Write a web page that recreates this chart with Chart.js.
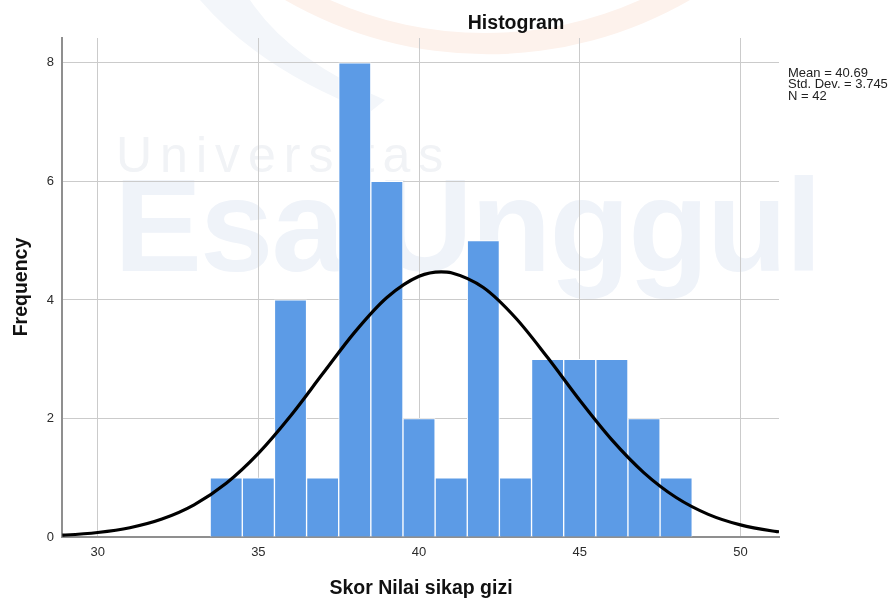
<!DOCTYPE html>
<html>
<head>
<meta charset="utf-8">
<script src="https://cdn.jsdelivr.net/npm/chart.js@4.4.1/dist/chart.umd.min.js"></script>
<style>
  html, body { margin: 0; padding: 0; background: #ffffff; }
  #wrap { position: relative; width: 893px; height: 600px; overflow: hidden; }
  #wm { position: absolute; left: 0; top: 0; width: 893px; height: 600px; }
  #c { position: absolute; left: 0; top: 0; }
  .wm1 { position: absolute; left: 116px; top: 126px; font-family: "Liberation Sans", Arial, sans-serif; font-weight: 300; font-size: 50px; letter-spacing: 8px; color: #f1f3f6; white-space: nowrap; }
  .wm2 { position: absolute; left: 114px; top: 160px; font-family: "Liberation Sans", Arial, sans-serif; font-weight: 700; font-size: 132px; letter-spacing: -2px; color: #eff3f9; white-space: nowrap; line-height: 1; }
</style>
</head>
<body>
<div id="wrap">
  <svg id="wm" width="893" height="600">
    <path d="M 200 0 Q 260 70 370 112 L 385 100 Q 290 60 250 0 Z" fill="#f3f6fa"/>
    <path d="M 285 0 A 405 405 0 0 0 690 0 L 640 0 A 380 380 0 0 1 330 0 Z" fill="#fdf2ec"/>
  </svg>
  <div class="wm1">Universitas</div>
  <div class="wm2">Esa Unggul</div>
  <canvas id="c" width="893" height="600"></canvas>
</div>
<script>
// Histogram bins (bin centres) and frequencies
const binCenters = [34, 35, 36, 37, 38, 39, 40, 41, 42, 43, 44, 45, 46, 47, 48];
const frequencies = [1, 1, 4, 1, 8, 6, 2, 1, 5, 1, 3, 3, 3, 2, 1];

// Normal curve (Mean = 40.69, Std. Dev. = 3.745, N = 42)
const curveX = [28.9, 29, 30, 31, 32, 33, 34, 35, 36, 37, 38, 39, 40, 40.69, 41, 42, 43, 44, 45, 46, 47, 48, 49, 50, 51, 51.2];
const curveY = [0.032, 0.034, 0.076, 0.157, 0.303, 0.543, 0.907, 1.411, 2.042, 2.753, 3.457, 4.041, 4.399, 4.474, 4.459, 4.209, 3.699, 3.028, 2.307, 1.638, 1.082, 0.666, 0.382, 0.204, 0.101, 0.088];

const xTicks = [30, 35, 40, 45, 50];
const yTicks = [0, 2, 4, 6, 8];

const chartTitle = "Histogram";
const xTitle = "Skor Nilai sikap gizi";
const yTitle = "Frequency";
const statsLines = ["Mean = 40.69", "Std. Dev. = 3.745", "N = 42"];

const barData = binCenters.map((x, i) => ({ x: x, y: frequencies[i] }));
const lineData = curveX.map((x, i) => ({ x: x, y: curveY[i] }));

const FONT = '"Liberation Sans", Arial, sans-serif';

const textPlugin = {
  id: 'texts',
  afterDraw(chart) {
    const ctx = chart.ctx;
    ctx.save();
    ctx.fillStyle = '#111';
    ctx.textBaseline = 'alphabetic';
    ctx.textAlign = 'center';
    ctx.font = 'bold 19.5px ' + FONT;
    ctx.fillText(chartTitle, 516, 29);

    ctx.font = 'bold 19.5px ' + FONT;
    ctx.fillText(xTitle, 421, 594);

    ctx.save();
    ctx.translate(27, 287);
    ctx.rotate(-Math.PI / 2);
    ctx.fillText(yTitle, 0, 0);
    ctx.restore();

    ctx.font = '13px ' + FONT;
    ctx.textAlign = 'left';
    ctx.fillStyle = '#222';
    statsLines.forEach((s, i) => ctx.fillText(s, 788, 76.5 + i * 11.5));
    ctx.restore();
  }
};

new Chart(document.getElementById('c'), {
  type: 'bar',
  data: {
    datasets: [
      {
        type: 'line',
        data: lineData,
        borderColor: '#000000',
        borderWidth: 3.2,
        pointRadius: 0,
        cubicInterpolationMode: 'monotone',
        fill: false,
        order: 0
      },
      {
        type: 'bar',
        data: barData,
        backgroundColor: '#5c9be6',
        borderColor: '#ffffff',
        borderWidth: 1,
        borderSkipped: 'start',
        barPercentage: 1,
        categoryPercentage: 1,
        order: 1
      }
    ]
  },
  options: {
    responsive: false,
    animation: false,
    layout: { padding: { left: 0, top: 38, right: 114, bottom: 0 } },
    plugins: { legend: { display: false }, tooltip: { enabled: false }, title: { display: false } },
    scales: {
      x: {
        type: 'linear',
        offset: false,
        min: 28.89,
        max: 51.2,
        afterFit(scale) { scale.height = 63; },
        afterBuildTicks(scale) { scale.ticks = xTicks.map(v => ({ value: v })); },
        ticks: { color: '#2b2b2b', font: { family: FONT, size: 13 }, padding: 8, maxRotation: 0 },
        grid: { color: '#cbcbcb', lineWidth: 1, drawTicks: false, offset: false },
        border: { color: '#8f8f8f', width: 2 }
      },
      y: {
        type: 'linear',
        min: 0,
        max: 8.42,
        afterFit(scale) { scale.width = 62; },
        afterBuildTicks(scale) { scale.ticks = yTicks.map(v => ({ value: v })); },
        ticks: { color: '#2b2b2b', font: { family: FONT, size: 13 }, padding: 8 },
        grid: { color: '#cbcbcb', lineWidth: 1, drawTicks: false },
        border: { color: '#8f8f8f', width: 2 }
      }
    }
  },
  plugins: [textPlugin]
});
</script>
</body>
</html>
